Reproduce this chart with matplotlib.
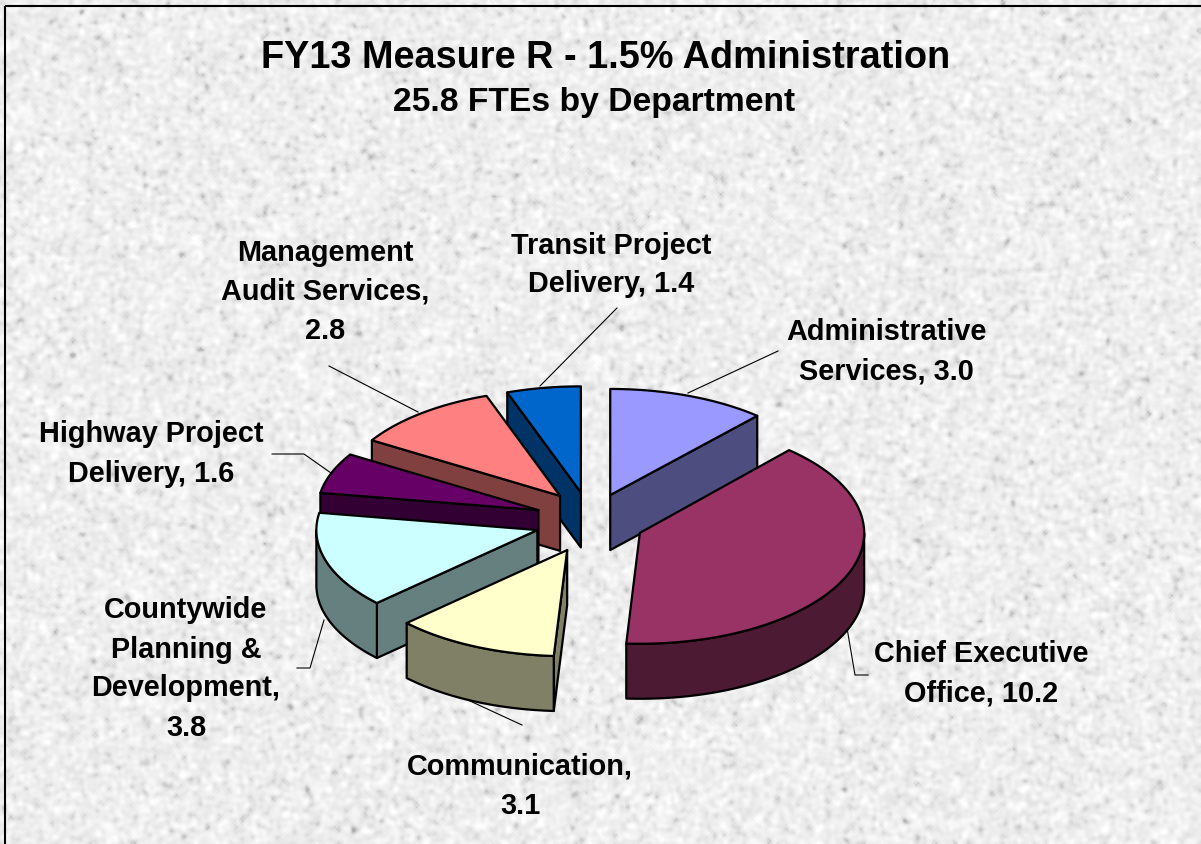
import numpy as np
import matplotlib
matplotlib.use("Agg")
import matplotlib.pyplot as plt
from matplotlib.patches import Polygon, Rectangle

plt.rcParams['font.family'] = ['Liberation Sans', 'DejaVu Sans']

title = "FY13 Measure R - 1.5% Administration"
subtitle = "25.8 FTEs by Department"
labels = ["Administrative\nServices, 3.0", "Chief Executive\nOffice, 10.2", "Communication,\n3.1",
          "Countywide\nPlanning &\nDevelopment,\n3.8", "Highway Project\nDelivery, 1.6",
          "Management\nAudit Services,\n2.8", "Transit Project\nDelivery, 1.4"]
values = [3.0, 10.2, 3.1, 3.8, 1.6, 2.8, 1.4]
top_colors = ["#9999FF", "#993366", "#FFFFCC", "#CCFFFF", "#660066", "#FF8080", "#0066CC"]
side_colors = ["#4D4D80", "#4D1A33", "#808066", "#668080", "#330033", "#804040", "#003366"]
label_xy = [(886, 352), (981, 674), (520, 786), (186, 669), (151, 454), (325, 292), (611, 265)]
leaders = [[(688, 393), (778, 351)], [(847, 628), (855, 675), (868, 675)], [(470, 701), (522, 725)],
           [(324, 620), (310, 668), (297, 668)], [(331, 473), (304, 454), (272, 454)],
           [(418, 412), (329, 366)], [(540, 386), (617, 308)]]
nudges = [(1, 3), (0, 0), (0, 1), (-1, 0), (-1, 0), (4, -1), (0, 2)]
scale_x = [1, 1.015, 1, 1, 1, 1, 1]
scale_y = [1, 1.045, 1, 1, 1, 1, 1]
draw_order = [0, 6, 5, 4, 3, 2, 1]

W, H = 1201, 844
CX, CY = 590, 521
R, K, DEPTH = 221, 0.48, 55
EXPLODE_X, EXPLODE_Y = 54, 31

fig = plt.figure(figsize=(W / 100, H / 100), dpi=100)
ax = fig.add_axes([0, 0, 1, 1])

# granite-like background texture (decoration only)
rng = np.random.RandomState(7)
n = rng.normal(size=(H // 2 + 1, W // 2 + 1))
def blur(a, passes):
    for _ in range(passes):
        a = (a + np.roll(a, 1, 0) + np.roll(a, -1, 0) + np.roll(a, 1, 1) + np.roll(a, -1, 1)) / 5
    return a
tex = blur(n, 2)
tex = tex / tex.std()
img = np.clip(238 + 6.5 * tex - 5 * np.clip(-tex - 0.8, 0, None) ** 2, 170, 255)
ax.imshow(img, cmap="gray", vmin=0, vmax=255, extent=(0, W, H, 0), interpolation="bilinear", aspect="auto", zorder=0)
ax.set_xlim(0, W)
ax.set_ylim(H, 0)
ax.axis("off")
ax.add_patch(Rectangle((4.5, 6), W + 20, H + 20, fill=False, ec="black", lw=1.5, zorder=1))

total = sum(values)
fractions = np.array(values) / total * 360
starts = np.concatenate([[0], np.cumsum(fractions)[:-1]])

def rim(tip, a, sx, sy):
    a = np.radians(a)
    return np.column_stack([tip[0] + R * sx * np.sin(a), tip[1] - R * K * sy * np.cos(a)])

style = dict(ec="black", lw=1.6, joinstyle="round")
down = np.array([0, DEPTH])
z = 2
for i in draw_order:
    a0, a1 = starts[i], starts[i] + fractions[i]
    mid = np.radians((a0 + a1) / 2)
    tip = np.array([CX + EXPLODE_X * np.sin(mid) + nudges[i][0], CY - EXPLODE_Y * np.cos(mid) + nudges[i][1]])
    arc = rim(tip, np.linspace(a0, a1, 80), scale_x[i], scale_y[i])
    # radial faces that look towards the viewer
    if 180 < a0 < 360:
        q = np.array([tip, arc[0], arc[0] + down, tip + down])
        ax.add_patch(Polygon(q, closed=True, fc=side_colors[i], zorder=z, **style))
    if 0 < a1 < 180:
        q = np.array([tip, arc[-1], arc[-1] + down, tip + down])
        ax.add_patch(Polygon(q, closed=True, fc=side_colors[i], zorder=z, **style))
    # outer wall, front half only
    lo, hi = max(a0, 90), min(a1, 270)
    if hi > lo:
        w = rim(tip, np.linspace(lo, hi, 80), scale_x[i], scale_y[i])
        ax.add_patch(Polygon(np.vstack([w, (w + down)[::-1]]), closed=True, fc=side_colors[i], zorder=z, **style))
    ax.add_patch(Polygon(np.vstack([[tip], arc]), closed=True, fc=top_colors[i], zorder=z, **style))
    z += 1

for pts in leaders:
    p = np.array(pts)
    ax.plot(p[:, 0], p[:, 1], color="black", lw=0.8, zorder=1.5)

for text, (x, y) in zip(labels, label_xy):
    ax.text(x, y, text, ha="center", va="center", fontsize=20.8, fontweight="bold", linespacing=1.5, zorder=30)

ax.text(606, 58, title, ha="center", va="center", fontsize=27.3, fontweight="bold", zorder=30)
ax.text(594, 102, subtitle, ha="center", va="center", fontsize=24.2, fontweight="bold", zorder=30)

fig.savefig("out.png", dpi=100)
